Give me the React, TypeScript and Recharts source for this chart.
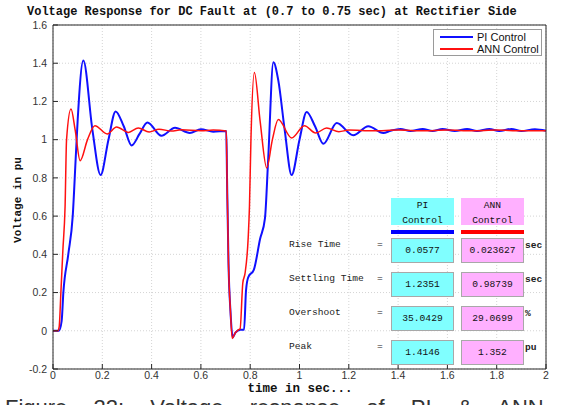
import React from 'react';
import {
  LineChart,
  Line,
  XAxis,
  YAxis,
  CartesianGrid,
} from 'recharts';

// time (s) and DC voltage (pu) for each controller
const piTime = [
  0, 0.024, 0.035, 0.042, 0.062, 0.08, 0.092, 0.1, 0.123, 0.16, 0.193, 0.225,
  0.254, 0.287, 0.319, 0.351, 0.383, 0.44, 0.495, 0.555, 0.6, 0.65, 0.703,
  0.706, 0.712, 0.72, 0.729, 0.74, 0.76, 0.775, 0.783, 0.792, 0.815, 0.84,
  0.86, 0.873, 0.894, 0.914, 0.94, 0.968, 1.0, 1.029, 1.063, 1.097, 1.151,
  1.218, 1.279, 1.34, 1.37, 1.41, 1.45, 1.5, 1.54, 1.58, 1.63, 1.68, 1.72,
  1.77, 1.81, 1.86, 1.9, 1.955, 2.0,
];
const piVolt = [
  0, 0, 0.05, 0.2, 0.4, 0.6, 0.9, 1.1, 1.4146, 1.05, 0.815, 1.0,
  1.148, 1.07, 0.97, 1.03, 1.09, 1.02, 1.062, 1.035, 1.055, 1.042, 1.045,
  0.8, 0.35, 0.1, -0.035, -0.01, 0.005, 0.005, 0.21, 0.28, 0.32, 0.48,
  0.59, 0.9, 1.405, 1.31, 1.05, 0.815, 1.0, 1.145, 1.07, 0.978, 1.087,
  1.023, 1.07, 1.035, 1.047, 1.056, 1.045, 1.056, 1.045, 1.056, 1.045, 1.056, 1.045,
  1.056, 1.045, 1.056, 1.045, 1.055, 1.047,
];

const annTime = [
  0, 0.02, 0.025, 0.032, 0.04, 0.049, 0.055, 0.073, 0.09, 0.11, 0.14, 0.17,
  0.22, 0.258, 0.306, 0.346, 0.39, 0.43, 0.48, 0.52, 0.6, 0.65, 0.703,
  0.706, 0.712, 0.72, 0.727, 0.74, 0.752, 0.759, 0.77, 0.779, 0.792, 0.797,
  0.803, 0.817, 0.84, 0.867, 0.89, 0.914, 0.968, 1.02, 1.066, 1.11, 1.16,
  1.2, 1.3, 1.4, 1.5, 1.6, 1.7, 1.8, 1.9, 2.0,
];
const annVolt = [
  0, 0, 0.02, 0.2, 0.42, 0.65, 1.0, 1.16, 1.05, 0.89, 1.0, 1.073,
  1.03, 1.066, 1.038, 1.061, 1.04, 1.055, 1.045, 1.052, 1.047, 1.05, 1.045,
  0.8, 0.35, 0.1, -0.04, -0.01, 0.005, 0.01, 0.25, 0.3, 0.49, 0.65,
  1.0, 1.352, 1.1, 0.852, 1.0, 1.105, 1.009, 1.073, 1.035, 1.061, 1.042,
  1.05, 1.047, 1.05, 1.047, 1.05, 1.047, 1.05, 1.047, 1.047,
];

const xTicks = [0, 0.2, 0.4, 0.6, 0.8, 1, 1.2, 1.4, 1.6, 1.8, 2];
const yTicks = [-0.2, 0, 0.2, 0.4, 0.6, 0.8, 1, 1.2, 1.4, 1.6];

// performance summary
const metricNames = ['Rise Time', 'Settling Time', 'Overshoot', 'Peak'];
const piValues = ['0.0577', '1.2351', '35.0429', '1.4146'];
const annValues = ['0.023627', '0.98739', '29.0699', '1.352'];
const metricUnits = ['sec', 'sec', '%', 'pu'];

const seriesNames = ['PI Control', 'ANN Control'];

const piData = piTime.map((t, i) => ({ t, v: piVolt[i] }));
const annData = annTime.map((t, i) => ({ t, v: annVolt[i] }));

const BLUE = '#1010ff';
const RED = '#ff1010';
const CYAN = '#80ffff';
const PINK = '#ffb0ff';
const AXIS = '#262626';
const MONO = '"Liberation Mono", "DejaVu Sans Mono", monospace';
const SANS = '"Liberation Sans", Arial, sans-serif';

const fmt = (v: number) => String(Number(v.toFixed(1)));
const tickStyle = { fontSize: 10.5, fill: '#333', fontFamily: SANS };
const noLabel = () => <g />;

function LegendBox() {
  const styles = [
    { color: BLUE, w: 2 },
    { color: RED, w: 1.5 },
  ];
  return (
    <div
      style={{
        position: 'absolute',
        left: 433,
        top: 29,
        width: 109,
        height: 27,
        background: '#fff',
        border: '1px solid #9a9a9a',
        fontFamily: SANS,
        fontSize: 11,
        color: '#111',
        boxSizing: 'border-box',
        padding: '1px 0 0 6px',
      }}
    >
      {seriesNames.map((name, i) => (
        <div key={name} style={{ display: 'flex', alignItems: 'center', height: 12 }}>
          <div style={{ width: 33, height: styles[i].w, background: styles[i].color, marginRight: 4 }} />
          <span>{name}</span>
        </div>
      ))}
    </div>
  );
}

const cellBase: React.CSSProperties = {
  position: 'absolute',
  width: 63,
  boxSizing: 'border-box',
  display: 'flex',
  alignItems: 'center',
  justifyContent: 'center',
  fontFamily: MONO,
  fontSize: 9.6,
  color: '#111',
};

const headBase: React.CSSProperties = {
  ...cellBase,
  top: 198,
  height: 27,
  flexDirection: 'column',
  justifyContent: 'flex-start',
  lineHeight: '15px',
};

const labelBase: React.CSSProperties = {
  position: 'absolute',
  height: 14,
  lineHeight: '14px',
  fontFamily: MONO,
  fontSize: 9.6,
  color: '#222',
  whiteSpace: 'nowrap',
};

function SummaryTable() {
  const rowTop = [238, 272, 306, 340];
  return (
    <>
      <div style={{ ...headBase, left: 391, background: CYAN }}>
        <span>PI</span>
        <span>Control</span>
      </div>
      <div style={{ ...headBase, left: 461, background: PINK }}>
        <span>ANN</span>
        <span>Control</span>
      </div>
      <div style={{ position: 'absolute', left: 391, top: 230, width: 63, height: 4, background: '#0000ff' }} />
      <div style={{ position: 'absolute', left: 461, top: 230, width: 63, height: 4, background: '#ff0000' }} />
      {metricNames.map((name, i) => (
        <React.Fragment key={name}>
          <div style={{ ...labelBase, left: 289, top: rowTop[i] }}>{name}</div>
          <div style={{ ...labelBase, left: 377, top: rowTop[i] }}>=</div>
          <div style={{ ...cellBase, left: 391, top: rowTop[i], height: 25, background: CYAN, border: '1px solid #a8a8a8' }}>
            {piValues[i]}
          </div>
          <div style={{ ...cellBase, left: 461, top: rowTop[i], height: 25, background: PINK, border: '1px solid #a8a8a8' }}>
            {annValues[i]}
          </div>
          <div style={{ ...labelBase, left: 525, top: rowTop[i] + 1, fontWeight: 'bold' }}>{metricUnits[i]}</div>
        </React.Fragment>
      ))}
    </>
  );
}

export default function App() {
  return (
    <div style={{ position: 'absolute', left: 0, top: 0, width: 574, height: 405, background: '#fff', overflow: 'hidden' }}>
      <LineChart width={574} height={405} margin={{ top: 24, right: 27, left: 8, bottom: 6 }}>
        <CartesianGrid stroke="#d4d4d4" strokeDasharray="1 2" />
        <XAxis
          dataKey="t"
          type="number"
          domain={[0, 2]}
          ticks={xTicks}
          tickFormatter={fmt}
          height={30}
          tickSize={-5}
          tickMargin={8}
          stroke={AXIS}
          tick={tickStyle}
        />
        <XAxis xAxisId="top" orientation="top" type="number" domain={[0, 2]} ticks={xTicks} height={1} tickSize={-5} stroke={AXIS} tick={noLabel} />
        <YAxis
          type="number"
          domain={[-0.2, 1.6]}
          ticks={yTicks}
          tickFormatter={fmt}
          width={45}
          tickSize={-5}
          tickMargin={11}
          stroke={AXIS}
          tick={tickStyle}
        />
        <YAxis yAxisId="right" orientation="right" type="number" domain={[-0.2, 1.6]} ticks={yTicks} width={1} tickSize={-5} stroke={AXIS} tick={noLabel} />
        <Line
          data={piData}
          dataKey="v"
          name={seriesNames[0]}
          type="monotone"
          stroke={BLUE}
          strokeWidth={2}
          dot={false}
          isAnimationActive={false}
        />
        <Line
          data={annData}
          dataKey="v"
          name={seriesNames[1]}
          type="monotone"
          stroke={RED}
          strokeWidth={1.5}
          dot={false}
          isAnimationActive={false}
        />
      </LineChart>

      <LegendBox />
      <div style={{ position: 'absolute', left: 27, top: 5, lineHeight: '14px', fontFamily: MONO, fontWeight: 'bold', fontSize: 12, color: '#111', whiteSpace: 'nowrap' }}>
        Voltage Response for DC Fault at (0.7 to 0.75 sec) at Rectifier Side
      </div>
      <div
        style={{
          position: 'absolute',
          left: 18,
          top: 200,
          transform: 'translate(-50%, -50%) rotate(-90deg)',
          fontFamily: MONO,
          fontWeight: 'bold',
          fontSize: 11,
          color: '#111',
          whiteSpace: 'nowrap',
        }}
      >
        Voltage in pu
      </div>
      <div
        style={{
          position: 'absolute',
          left: 300,
          top: 389,
          transform: 'translate(-50%, -50%)',
          fontFamily: MONO,
          fontWeight: 'bold',
          fontSize: 12.5,
          color: '#111',
          whiteSpace: 'nowrap',
        }}
      >
        time in sec...
      </div>
      <SummaryTable />
      <div
        style={{
          position: 'absolute',
          left: 5,
          top: 395,
          fontFamily: SANS,
          fontSize: 22,
          color: '#333',
          whiteSpace: 'nowrap',
          wordSpacing: 20,
        }}
      >
        Figure 22: Voltage response of PI &amp; ANN
      </div>
    </div>
  );
}
